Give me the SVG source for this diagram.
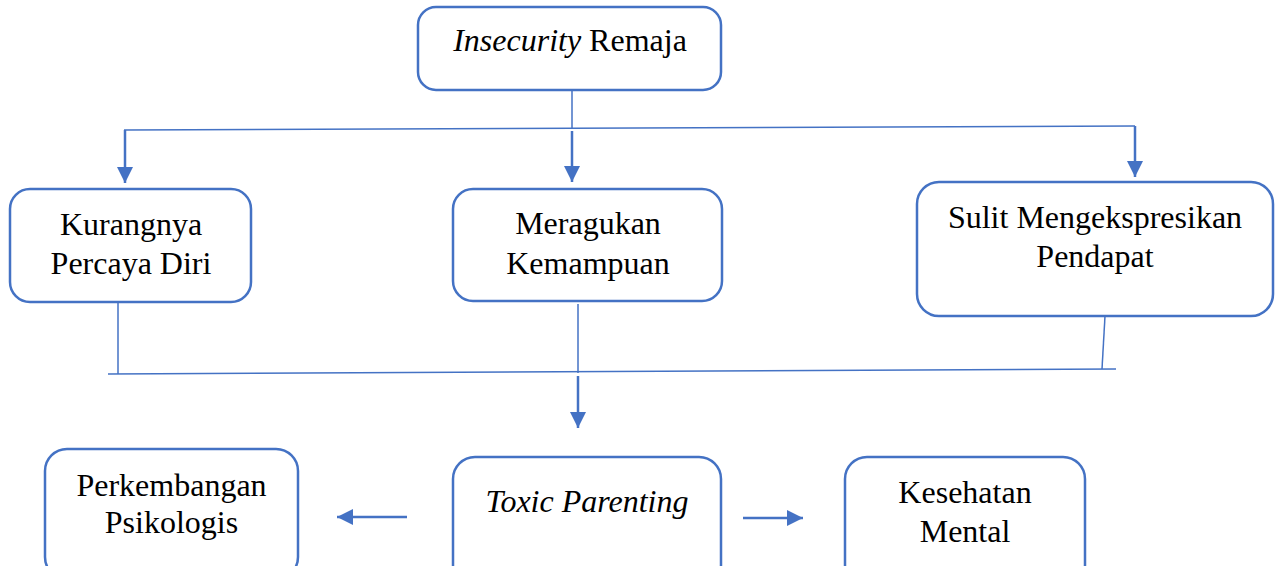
<svg xmlns="http://www.w3.org/2000/svg" width="1283" height="566" viewBox="0 0 1283 566">
<style>
.box{fill:#fff;stroke:#4472C4;stroke-width:2.5}
.t{font-family:"Liberation Serif","Times New Roman",serif;font-size:32px;fill:#000;text-anchor:middle}
.i{font-style:italic}
.thin{stroke:#4472C4;stroke-width:1.5;fill:none}
.thick{stroke:#4472C4;stroke-width:2.5;fill:none}
</style>
<defs>
<marker id="ah" viewBox="0 0 10 10" refX="10" refY="5" markerWidth="6.4" markerHeight="6.4" orient="auto" markerUnits="strokeWidth">
<path d="M0,0 L10,5 L0,10 z" fill="#4472C4"/>
</marker>
</defs>
<rect width="1283" height="566" fill="#fff"/>
<g id="connectors">
<line class="thin" x1="572" y1="90" x2="572" y2="129"/>
<line class="thin" x1="124" y1="130" x2="1135" y2="126"/>
<line class="thick" x1="125" y1="130" x2="125" y2="183" marker-end="url(#ah)"/>
<line class="thick" x1="572" y1="131" x2="572" y2="182" marker-end="url(#ah)"/>
<line class="thick" x1="1135" y1="126" x2="1135" y2="177" marker-end="url(#ah)"/>
<line class="thin" x1="118" y1="302" x2="118" y2="374"/>
<line class="thin" x1="578" y1="304" x2="578" y2="373"/>
<line class="thin" x1="1105" y1="316" x2="1102" y2="369"/>
<line class="thin" x1="108" y1="374" x2="1116" y2="369"/>
<line class="thick" x1="578" y1="376" x2="578" y2="428" marker-end="url(#ah)"/>
<line class="thick" x1="407" y1="517" x2="337" y2="517" marker-end="url(#ah)"/>
<line class="thick" x1="743" y1="518" x2="803" y2="518" marker-end="url(#ah)"/>
</g>
<g id="n-insecurity">
<rect class="box" x="418" y="7" width="303" height="83" rx="18"/>
<text class="t" x="570" y="51"><tspan class="i">Insecurity</tspan> Remaja</text>
</g>
<g id="n-kurang">
<rect class="box" x="10" y="189" width="241" height="113" rx="20"/>
<text class="t" x="131" y="235">Kurangnya</text>
<text class="t" x="131" y="274">Percaya Diri</text>
</g>
<g id="n-meragukan">
<rect class="box" x="453" y="189" width="269" height="112" rx="20"/>
<text class="t" x="588" y="234">Meragukan</text>
<text class="t" x="588" y="274">Kemampuan</text>
</g>
<g id="n-sulit">
<rect class="box" x="917" y="182" width="356" height="134" rx="22"/>
<text class="t" x="1095" y="228">Sulit Mengekspresikan</text>
<text class="t" x="1095" y="267">Pendapat</text>
</g>
<g id="n-toxic">
<rect class="box" x="453" y="457" width="268" height="130" rx="22"/>
<text class="t i" x="587" y="512">Toxic Parenting</text>
</g>
<g id="n-perkembangan">
<rect class="box" x="45" y="449" width="253" height="130" rx="22"/>
<text class="t" x="171.5" y="496">Perkembangan</text>
<text class="t" x="171.5" y="533">Psikologis</text>
</g>
<g id="n-kesehatan">
<rect class="box" x="845" y="457" width="240" height="130" rx="22"/>
<text class="t" x="965" y="503">Kesehatan</text>
<text class="t" x="965" y="542">Mental</text>
</g>
</svg>
